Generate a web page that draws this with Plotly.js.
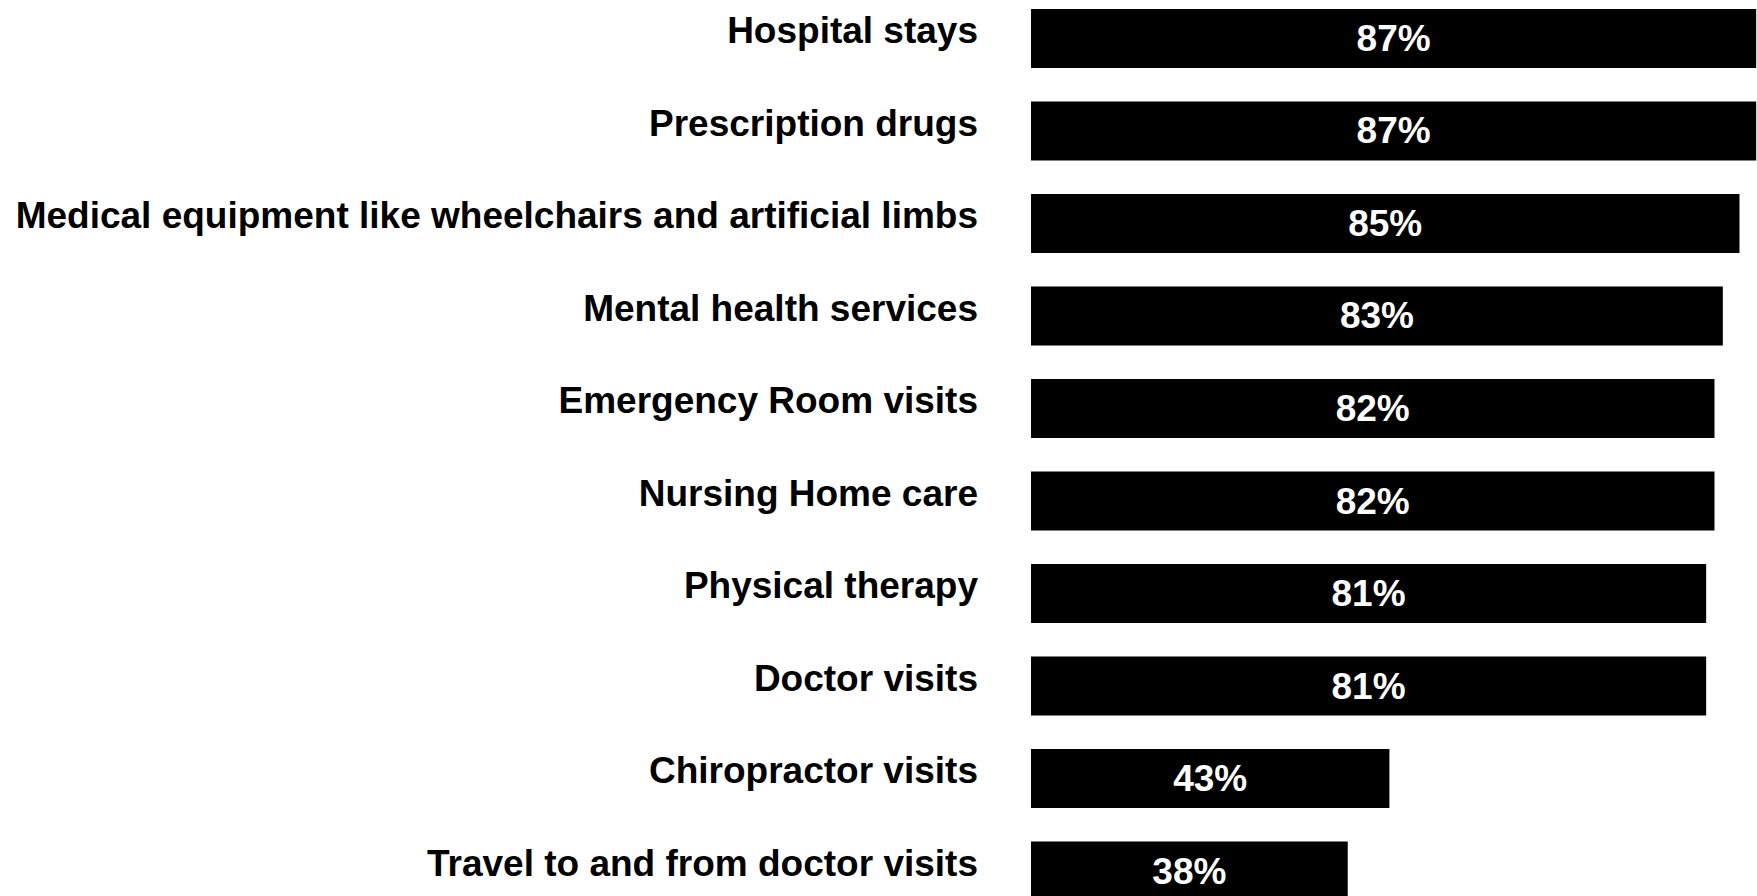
<!DOCTYPE html>
<html>
<head>
<meta charset="utf-8">
<script src="https://cdn.plot.ly/plotly-3.0.1.min.js"></script>
<style>html,body{margin:0;padding:0;background:#fff;}#chart{width:1757px;height:896px;}</style>
</head>
<body>
<div id="chart"></div>
<script>
const categories = [
  "Hospital stays",
  "Prescription drugs",
  "Medical equipment like wheelchairs and artificial limbs",
  "Mental health services",
  "Emergency Room visits",
  "Nursing Home care",
  "Physical therapy",
  "Doctor visits",
  "Chiropractor visits",
  "Travel to and from doctor visits"
];
const values = [87, 87, 85, 83, 82, 82, 81, 81, 43, 38];
const valueLabels = values.map(v => v + "%");

const trace = {
  type: "bar",
  orientation: "h",
  y: categories,
  x: values,
  text: valueLabels,
  textposition: "inside",
  insidetextanchor: "middle",
  textangle: 0,
  textfont: {family: "Liberation Sans, Arial, sans-serif", size: 37, color: "#ffffff", weight: "bold"},
  marker: {color: "#000000", line: {width: 0}},
  hoverinfo: "none"
};

const layout = {
  width: 1757,
  height: 896,
  margin: {l: 1031, r: 0, t: 0, b: 0, pad: 0},
  paper_bgcolor: "#ffffff",
  plot_bgcolor: "#ffffff",
  showlegend: false,
  bargap: 0.362,
  xaxis: {
    range: [0, 87.1],
    visible: false,
    showgrid: false,
    zeroline: false
  },
  yaxis: {
    type: "category",
    range: [9.270, -0.416],
    automargin: false,
    showgrid: false,
    zeroline: false,
    showline: false,
    ticks: "",
    ticklabelstandoff: 52,
    ticklabelshift: 8,
    tickfont: {family: "Liberation Sans, Arial, sans-serif", size: 37, color: "#000000", weight: "bold"}
  }
};

Plotly.newPlot("chart", [trace], layout, {displayModeBar: false, staticPlot: true});
</script>
</body>
</html>
